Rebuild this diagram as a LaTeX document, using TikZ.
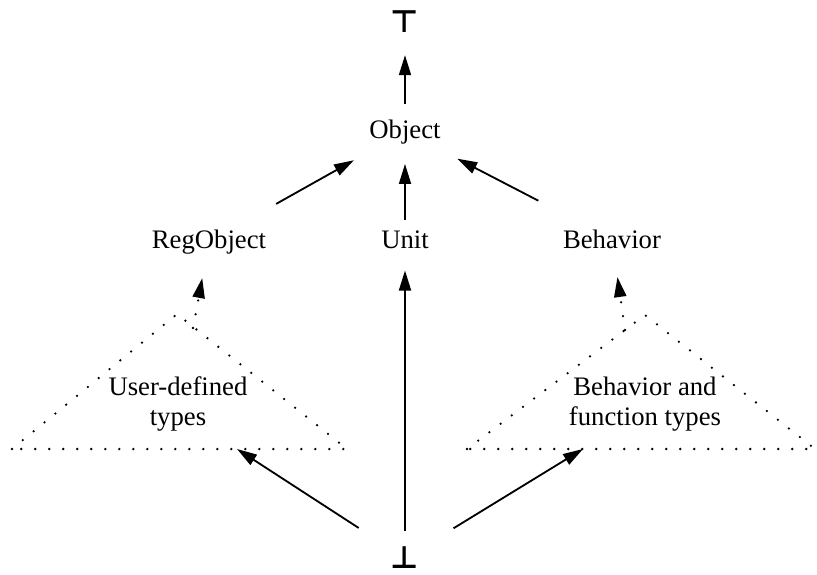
\documentclass[tikz,border=0pt]{standalone}
\usepackage{fontspec}
\setmainfont{Liberation Serif}
\newfontfamily\symfont{DejaVu Sans}
\usetikzlibrary{positioning, arrows.meta}

\begin{document}
\begin{tikzpicture}[
  lbl/.style={font=\fontsize{19}{21.5}\selectfont, inner sep=0pt, align=center},
  sym/.style={font=\symfont\bfseries\fontsize{22}{26}\selectfont, inner sep=0pt},
  arr/.style={-{Triangle[length=0.5cm, width=0.3cm]}, line width=1.3pt},
  dots/.style={line width=1.8pt, line cap=round, dash pattern=on 0pt off 0.35cm}
]
  \useasboundingbox (0,0) rectangle (20.425,-14.375);
  % lattice nodes
  \node[sym] (top) at (10.125,-0.55) {⊤};
  \node[lbl, anchor=base] (obj) at (10.125,-3.45) {Object};
  \node[lbl, anchor=base] (reg) at (5.225,-6.2) {RegObject};
  \node[lbl, anchor=base] (unit) at (10.125,-6.2) {Unit};
  \node[lbl, anchor=base] (beh) at (15.3,-6.2) {Behavior};
  \node[sym] (bot) at (10.125,-13.95) {⊥};
  % type families (dotted triangles)
  \draw[dots] (0.3,-11.225) -- (4.425,-7.85) -- (8.675,-11.225) -- cycle;
  \draw[dots] (11.675,-11.225) -- (16.125,-7.875) -- (20.375,-11.225) -- cycle;
  \node[lbl] (udt) at (4.45,-10.1) {User-defined\\types};
  \node[lbl] (bft) at (16.125,-10.1) {Behavior and\\function types};
  \coordinate (udt-src) at (4.825,-8.2);
  \coordinate (bft-src) at (15.625,-8.25);
  \coordinate (udt-in) at (5.925,-11.225);
  \coordinate (bft-in) at (14.575,-11.225);
  % subtype arrows
  \draw[arr, shorten <=0.375cm, shorten >=0.55cm] (obj) -- (top);
  \draw[arr, shorten <=0.25cm, shorten >=0.5cm] (unit) -- (obj);
  \draw[arr, shorten <=1.29cm, shorten >=0.83cm] (reg) -- (obj);
  \draw[arr, shorten <=1.55cm, shorten >=0.8cm] (beh) -- (obj);
  \draw[arr, shorten <=0.4cm, shorten >=0.55cm] (bot) -- (unit);
  \draw[arr, shorten <=0.95cm] (bot) -- (udt-in);
  \draw[arr, shorten <=1.0cm] (bot) -- (bft-in);
  \draw[arr, dots, shorten >=0.61cm] (udt-src) -- (reg);
  \draw[arr, dots, shorten >=0.72cm] (bft-src) -- (beh);
\end{tikzpicture}
\end{document}
